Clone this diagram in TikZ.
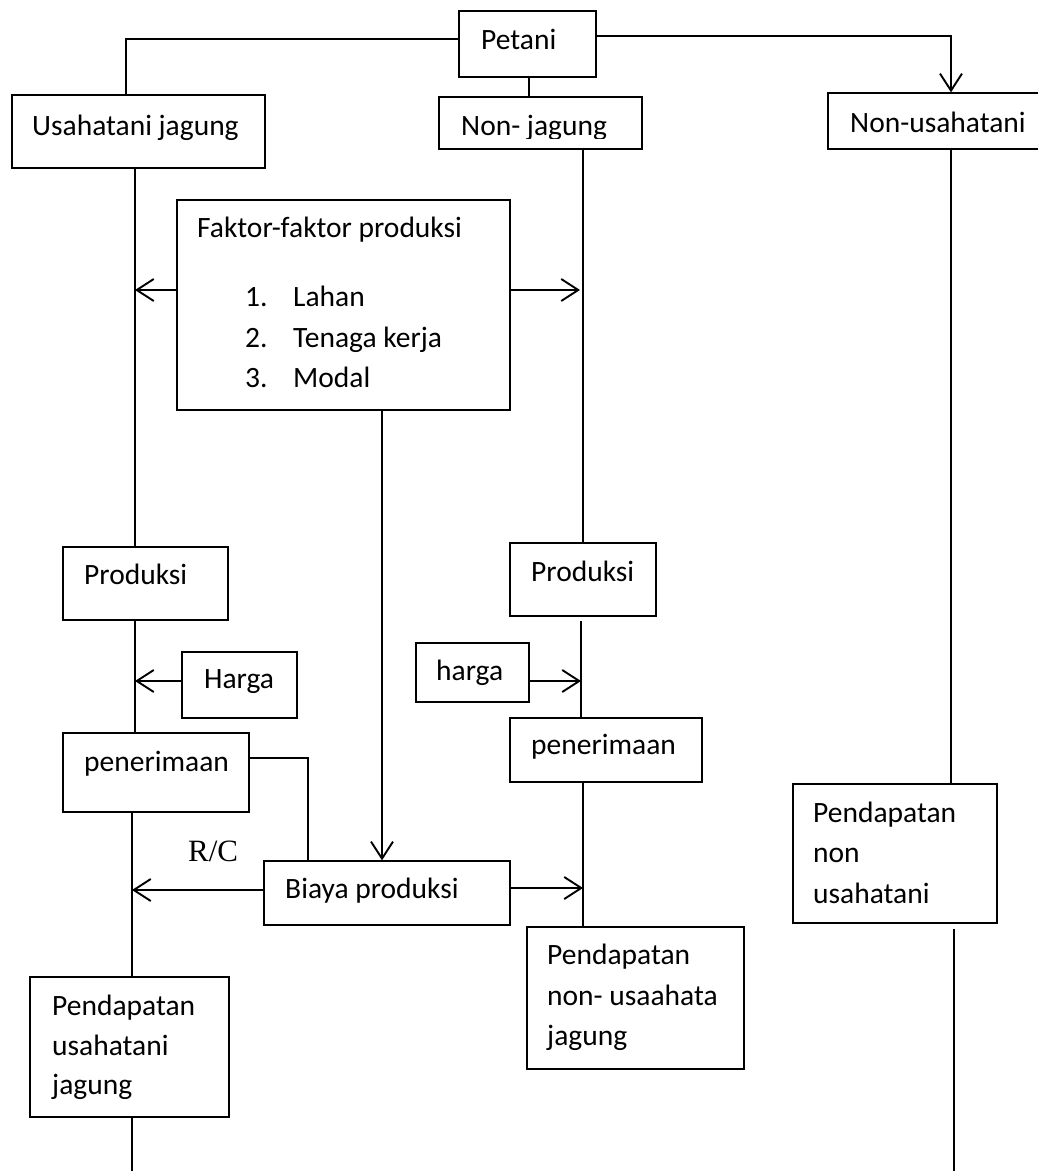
\documentclass[tikz,border=0pt]{standalone}
\usepackage{fontspec}
\setmainfont{Carlito}
\newfontfamily\rcfont{Liberation Serif}
\usetikzlibrary{arrows.meta,fit}
\begin{document}
\begin{tikzpicture}[x=1pt,y=-1pt,
  box/.style={draw=black,line width=1.3pt,inner sep=0pt,rectangle},
  txt/.style={anchor=base west,inner sep=0pt,font=\fontsize{29.5}{40}\selectfont},
  conn/.style={draw=black,line width=1.9pt},
  arr/.style={conn,-{Straight Barb[length=17pt,width=22pt,line width=1.9pt]}}]
\useasboundingbox (0,0) rectangle (1038,1171);
\fill[white] (0,0) rectangle (1038,1171);

% boxes
\node[box,fit={(459,11) (596,77)}] (petani) {};
\node[box,fit={(12,95) (265,168)}] (usaha) {};
\node[box,fit={(439,97) (642,149)}] (nonjag) {};
\node[box,fit={(828,93) (1045,149)}] (nonusaha) {};
\node[box,fit={(177,200) (510,410)}] (faktor) {};
\node[box,fit={(63,547) (228,620)}] (prodL) {};
\node[box,fit={(182,652) (297,718)}] (hargaL) {};
\node[box,fit={(63,733) (249,812)}] (penerL) {};
\node[box,fit={(264,861) (510,925)}] (biaya) {};
\node[box,fit={(510,543) (656,616)}] (prodM) {};
\node[box,fit={(416,643) (529,702)}] (hargaM) {};
\node[box,fit={(510,718) (702,782)}] (penerM) {};
\node[box,fit={(793,784) (997,923)}] (pendNU) {};
\node[box,fit={(527,927) (744,1069)}] (pendNJ) {};
\node[box,fit={(30,977) (229,1117)}] (pendUJ) {};

% texts
\node[txt] (tpetani) at (481,49) {Petani};
\node[txt] (tusaha) at (32,135) {Usahatani jagung};
\begin{scope}
\clip (440,98) rectangle (641,138);
\node[txt] (tnonjag) at (461,135) {Non- jagung};
\end{scope}
\node[txt] (tnonusaha) at (850,132) {Non-usahatani};
\node[txt] (tfak) at (197,237) {Faktor-faktor produksi};
\node[txt] (tf1) at (245,306) {\makebox[48pt][l]{1.}Lahan};
\node[txt] (tf2) at (245,347) {\makebox[48pt][l]{2.}Tenaga kerja};
\node[txt] (tf3) at (245,387) {\makebox[48pt][l]{3.}Modal};
\node[txt] (tprodL) at (84,584) {Produksi};
\node[txt] (thargaL) at (204,688) {Harga};
\node[txt] (tpenerL) at (84,771) {penerimaan};
\node[txt] (tbiaya) at (285,898) {Biaya produksi};
\node[txt] (tprodM) at (531,581) {Produksi};
\node[txt] (thargaM) at (436,680) {harga};
\node[txt] (tpenerM) at (531,754) {penerimaan};
\node[txt] (tnu1) at (813,822) {Pendapatan};
\node[txt] (tnu2) at (813,862) {non};
\node[txt] (tnu3) at (813,903) {usahatani};
\node[txt] (tnj1) at (547,964) {Pendapatan};
\node[txt] (tnj2) at (547,1005) {non- usaahata};
\node[txt] (tnj3) at (547,1045) {jagung};
\node[txt] (tuj1) at (52,1015) {Pendapatan};
\node[txt] (tuj2) at (52,1055) {usahatani};
\node[txt] (tuj3) at (52,1094) {jagung};
\node[anchor=base west,inner sep=0pt,font=\rcfont\fontsize{31}{36}\selectfont] (trc) at (188,861) {R/C};

% helper coordinates
\coordinate (cL) at (126,39);
\coordinate (cR) at (951,36);
\coordinate (cM) at (529,0);
\coordinate (xL) at (135,0);
\coordinate (xL2) at (132,0);
\coordinate (xM) at (583,0);
\coordinate (xM2) at (581,0);
\coordinate (xR) at (951,0);
\coordinate (xR2) at (954,0);
\coordinate (xC) at (382,0);
\coordinate (xP) at (308,0);
\coordinate (bL) at (132,1171);
\coordinate (bR) at (954,1171);
\coordinate (yF) at (0,290);
\coordinate (yH) at (0,681);
\coordinate (yP) at (0,758);
\coordinate (yB1) at (0,890);
\coordinate (yB2) at (0,888);

% top connectors
\draw[conn] (petani.west |- cL) -- (cL) -- (usaha.north -| cL);
\draw[arr] (petani.east |- cR) -- (cR) -- (nonusaha.north -| cR);
\draw[conn] (petani.south -| cM) -- (nonjag.north -| cM);

% left column
\draw[conn] (usaha.south -| xL) -- (prodL.north -| xL);
\draw[conn] (prodL.south -| xL) -- (penerL.north -| xL);
\draw[conn] (penerL.south -| xL2) -- (pendUJ.north -| xL2);
\draw[conn] (pendUJ.south -| xL2) -- (bL);
\draw[arr] (faktor.west |- yF) -- (xL |- yF);
\draw[arr] (hargaL.west |- yH) -- (xL |- yH);
\draw[conn] (penerL.east |- yP) -- (xP |- yP) -- (biaya.north -| xP);
\draw[arr] (biaya.west |- yB1) -- (xL2 |- yB1);

% centre
\draw[arr] (faktor.south -| xC) -- (biaya.north -| xC);
\draw[arr] (faktor.east |- yF) -- ([xshift=-3pt]xM |- yF);
\draw[arr] (biaya.east |- yB2) -- (xM |- yB2);

% middle column
\draw[conn] (nonjag.south -| xM) -- (prodM.north -| xM);
\draw[conn] ([yshift=-4pt]prodM.south -| xM2) -- (penerM.north -| xM2);
\draw[arr] (hargaM.east |- yH) -- (xM2 |- yH);
\draw[conn] (penerM.south -| xM) -- (pendNJ.north -| xM);

% right column
\draw[conn] (nonusaha.south -| xR) -- (pendNU.north -| xR);
\draw[conn] ([yshift=-5pt]pendNU.south -| xR2) -- (bR);
\end{tikzpicture}
\end{document}
